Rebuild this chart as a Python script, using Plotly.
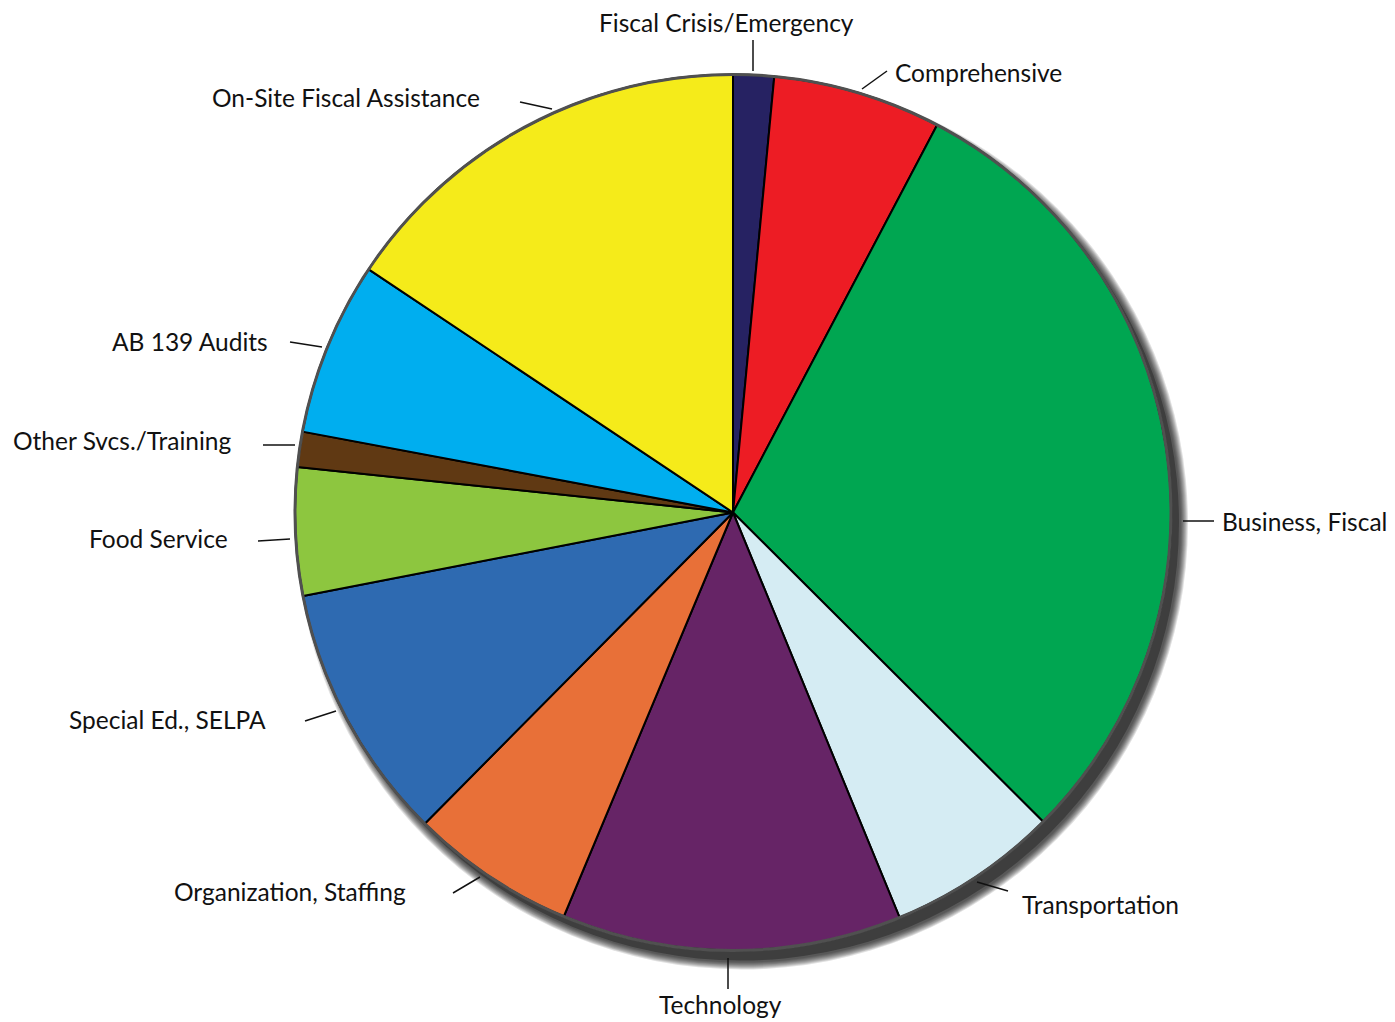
import plotly.graph_objects as go

W, H = 1395, 1022

categories = ["Fiscal Crisis/Emergency", "Comprehensive", "Business, Fiscal", "Transportation",
              "Technology", "Organization, Staffing", "Special Ed., SELPA", "Food Service",
              "Other Svcs./Training", "AB 139 Audits", "On-Site Fiscal Assistance"]
values = [1.5, 6.2, 29.7, 6.3, 12.5, 6.1, 9.5, 4.7, 1.3, 6.4, 15.6]
colors = ["#262262", "#ED1C24", "#00A651", "#D5ECF3", "#662466", "#E87038",
          "#2E6AB1", "#8DC63F", "#603913", "#00AEEF", "#F5EB1A"]

# label layout: (text x px, text y px, anchor, leader line x0,y0,x1,y1)
label_layout = {
    "Fiscal Crisis/Emergency": (726, 22, "center", 753, 40, 753, 71),
    "Comprehensive": (893, 72, "left", 862, 89, 887, 71),
    "Business, Fiscal": (1220, 521, "left", 1183, 521, 1214, 521),
    "Transportation": (1020, 904, "left", 977, 882, 1008, 891),
    "Technology": (720, 1004, "center", 728, 958, 728, 989),
    "Organization, Staffing": (408, 891, "right", 453, 893, 480, 877),
    "Special Ed., SELPA": (268, 719, "right", 305, 721, 336, 711),
    "Food Service": (230, 538, "right", 258, 541, 290, 539),
    "Other Svcs./Training": (234, 440, "right", 263, 445, 295, 445),
    "AB 139 Audits": (270, 341, "right", 290, 342, 322, 347),
    "On-Site Fiscal Assistance": (482, 98, "right", 520, 102, 552, 109),
}

CX, CY, R = 733, 512.5, 438


def px(x):
    return x / W


def py(y):
    return 1 - y / H


def domain(cx, cy, r):
    return dict(x=[(cx - r) / W, (cx + r) / W], y=[1 - (cy + r) / H, 1 - (cy - r) / H])


fig = go.Figure()

# drop shadow layers (soft edge)
for k in range(8, 0, -1):
    fig.add_trace(go.Pie(values=[1], labels=["shadow"], domain=domain(CX + 9, CY + 11, R + k),
                         marker=dict(colors=["rgba(0,0,0,0.12)"], line=dict(width=0)),
                         textinfo="none", hoverinfo="skip", showlegend=False, sort=False))
fig.add_trace(go.Pie(values=[1], labels=["shadow"], domain=domain(CX + 8, CY + 10, R),
                     marker=dict(colors=["#3e3e3e"], line=dict(width=0)),
                     textinfo="none", hoverinfo="skip", showlegend=False, sort=False))

fig.add_trace(go.Pie(
    labels=categories, values=values, sort=False, direction="clockwise", rotation=0,
    domain=domain(CX, CY, R),
    marker=dict(colors=colors, line=dict(color="#000000", width=2)),
    textinfo="none", showlegend=False,
))

shapes = [dict(type="circle", xref="paper", yref="paper",
               x0=px(CX - R), x1=px(CX + R), y0=py(CY + R), y1=py(CY - R),
               line=dict(color="#505050", width=3))]
annotations = []
for name in categories:
    tx, ty, anc, x0, y0, x1, y1 = label_layout[name]
    annotations.append(dict(text=name, x=px(tx), y=py(ty), xref="paper", yref="paper",
                            xanchor=anc, yanchor="middle", showarrow=False,
                            font=dict(family="Lato", size=24.5, color="#111111")))
    shapes.append(dict(type="line", xref="paper", yref="paper",
                       x0=px(x0), y0=py(y0), x1=px(x1), y1=py(y1),
                       line=dict(color="#111111", width=1.5)))

fig.update_layout(width=W, height=H, margin=dict(l=0, r=0, t=0, b=0),
                  paper_bgcolor="white", plot_bgcolor="white",
                  shapes=shapes, annotations=annotations)

fig.write_html("out.html")
